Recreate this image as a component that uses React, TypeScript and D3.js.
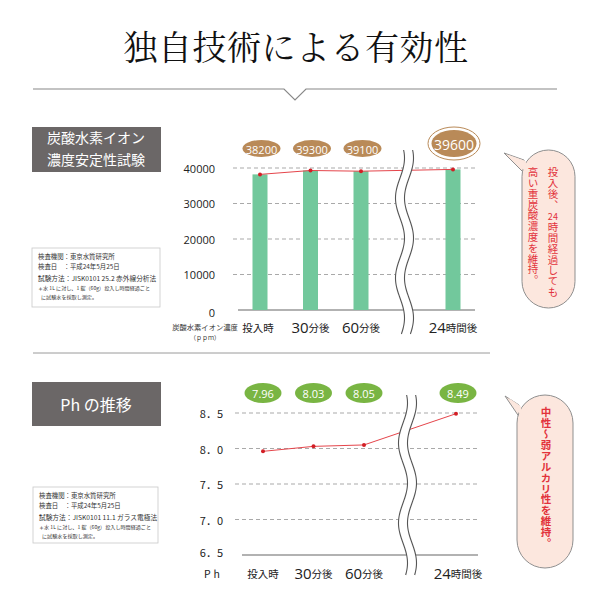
import React from "react";
import * as d3 from "d3";

const categories = ["投入時", "30分後", "60分後", "24時間後"];
const ionValues = [38200, 39300, 39100, 39600];
const ionTicks = [0, 10000, 20000, 30000, 40000];
const phValues = [7.96, 8.03, 8.05, 8.49];
const phTicks = [6.5, 7.0, 7.5, 8.0, 8.5];
const phTickLabels = ["6．5", "7．0", "7．5", "8．0", "8．5"];

const JP = '"Noto Sans CJK JP", "Noto Sans", sans-serif';
const NUM = '"Open Sans", "Noto Sans", sans-serif';
const RED = "#e5454b";
const DOT = "#d21f26";
const GRID = "#a9a9a9";
const HEAD = "#6b6767";
const TAN = "#b98a58";
const GREEN = "#79b543";
const BUBBLE = "#fce7de";
const BTEXT = "#e2323b";

function splitLabel(c: string) {
  const m = c.match(/^(\d+)(.*)$/);
  return m ? [m[1], m[2]] : ["", c];
}

function Wave({ cx, y0, y1 }: { cx: number; y0: number; y1: number }) {
  const gap = 9;
  const pts = d3.range(y0, y1 + 0.1, 2).map((y) => [
    cx + 4.5 * Math.sin(((y - y0) / 80) * 2 * Math.PI + 0.94),
    y,
  ]) as [number, number][];
  const left = pts;
  const right = pts.map(([x, y]) => [x + gap, y]) as [number, number][];
  const line = d3.line().curve(d3.curveCatmullRom);
  const area = [...left, ...right.slice().reverse()];
  return (
    <g>
      <path d={d3.line().curve(d3.curveLinearClosed)(area) || ""} fill="#fff" />
      <path d={line(left) || ""} fill="none" stroke="#555" strokeWidth={1.1} />
      <path d={line(right) || ""} fill="none" stroke="#555" strokeWidth={1.1} />
    </g>
  );
}

function CatLabels({ x, y }: { x: (i: number) => number; y: number }) {
  return (
    <g>
      {categories.map((c, i) => {
        const [n, rest] = splitLabel(c);
        return (
          <text key={c} x={x(i)} y={y} textAnchor="middle" dominantBaseline="central" fill="#222">
            {n && (
              <tspan fontFamily={NUM} fontSize={15}>
                {n}
              </tspan>
            )}
            <tspan fontFamily={JP} fontSize={10.5}>
              {rest}
            </tspan>
          </text>
        );
      })}
    </g>
  );
}

function InfoBox({ x, y, w, h, method }: { x: number; y: number; w: number; h: number; method: string }) {
  return (
    <g fontFamily={JP} fill="#333">
      <rect x={x} y={y} width={w} height={h} fill="#fff" stroke="#c8c8c8" strokeWidth={0.8} />
      <text x={x + 6} y={y + 11} fontSize={6.4}>検査機関：東京水質研究所</text>
      <text x={x + 6} y={y + 21} fontSize={6.4}>検査日　：平成24年5月25日</text>
      <text x={x + 6} y={y + 33} fontSize={6.7}>{method}</text>
      <text x={x + 6} y={y + 42} fontSize={5.1}>＊水 1L に対し、1 錠（60g）投入し時間経過ごと</text>
      <text x={x + 9} y={y + 51} fontSize={5.1}>に試験水を採取し測定。</text>
    </g>
  );
}

function Bubble({ x, y, w, h, tip }: { x: number; y: number; w: number; h: number; tip: [number, number] }) {
  const tail = `M${x + 2},${y + 10} L${tip[0]},${tip[1]} L${x + 5},${y + 26}`;
  return (
    <g>
      <path d={tail + "Z"} fill={BUBBLE} stroke="#8f8f8f" strokeWidth={1} />
      <rect x={x} y={y} width={w} height={h} rx={w / 2} ry={w / 2} fill={BUBBLE} stroke="#8f8f8f" strokeWidth={1} />
      <path d={`M${x + 3.5},${y + 11} L${tip[0] + 3},${tip[1] + 1.5} L${x + 6.5},${y + 24}Z`} fill={BUBBLE} />
    </g>
  );
}

export default function App() {
  // chart 1 scales
  const xIon = d3.scaleLinear().domain([0, 2, 3]).range([260, 361, 453]);
  const yIon = d3.scaleLinear().domain([0, 40000]).range([310, 168]);
  // chart 2 scales
  const xPh = d3.scaleLinear().domain([0, 2, 3]).range([263, 364, 456]);
  const yPh = d3.scaleLinear().domain([6.5, 8.5]).range([555, 413]);

  const ionLine = d3
    .line<number>()
    .x((_, i) => xIon(i))
    .y((d) => yIon(d));
  const phLine = d3
    .line<number>()
    .x((_, i) => xPh(i))
    .y((d) => yPh(d));

  const bw = 15;
  const vert: React.CSSProperties = { writingMode: "vertical-rl" as any };

  return (
    <svg width={600} height={600} viewBox="0 0 600 600" style={{ display: "block", position: "absolute", left: 0, top: 0, background: "#fff" }}>
      <rect width={600} height={600} fill="#fff" />
      {/* title */}
      <text x={296} y={45} textAnchor="middle" dominantBaseline="central" fontFamily={'"Noto Serif CJK JP", serif'} fontSize={34} fill="#111" letterSpacing={0.5}>
        独自技術による有効性
      </text>
      <path d="M33,89 L284,89 L295,100 L306,89 L557,89" fill="none" stroke="#888" strokeWidth={1.2} />

      {/* section 1 header */}
      <rect x={32} y={127} width={129} height={45} fill={HEAD} />
      <text x={96} y={137} textAnchor="middle" dominantBaseline="central" fontFamily={JP} fontSize={14} fill="#fff">
        炭酸水素イオン
      </text>
      <text x={96} y={159} textAnchor="middle" dominantBaseline="central" fontFamily={JP} fontSize={14} fill="#fff">
        濃度安定性試験
      </text>
      <InfoBox x={32} y={248} w={128} h={59} method="試験方法：JISK0101 25.2 赤外線分析法" />

      {/* chart 1 */}
      {ionTicks.filter((t) => t > 0).map((t) => (
        <line key={t} x1={233} x2={475} y1={yIon(t)} y2={yIon(t)} stroke={GRID} strokeDasharray="4,3" strokeWidth={1} />
      ))}
      {ionTicks.map((t) => (
        <text key={t} x={215} y={yIon(t) + (t === 0 ? 2 : 0)} textAnchor="end" dominantBaseline="central" fontFamily={NUM} fontSize={11} fill="#222">
          {t}
        </text>
      ))}
      <line x1={238} x2={475} y1={yIon(0)} y2={yIon(0)} stroke="#666" strokeWidth={1.2} />
      {ionValues.map((v, i) => (
        <rect key={i} x={xIon(i) - bw / 2} y={yIon(v)} width={bw} height={yIon(0) - yIon(v)} fill="#72c89c" />
      ))}
      <path d={ionLine(ionValues) || ""} fill="none" stroke={RED} strokeWidth={1} />
      {ionValues.map((v, i) => (
        <circle key={i} cx={xIon(i)} cy={yIon(v)} r={2} fill={DOT} />
      ))}
      <Wave cx={400} y0={150} y1={334} />
      {ionValues.map((v, i) => {
        const big = i === ionValues.length - 1;
        const cx = xIon(i) + (big ? 1 : 1.5);
        return (
          <g key={i}>
            {big && <ellipse cx={cx} cy={143.5} rx={26} ry={16.5} fill="#fff" stroke={TAN} strokeWidth={1} />}
            <ellipse cx={cx} cy={big ? 143.5 : 148.5} rx={big ? 22.5 : 19} ry={big ? 13.5 : 8.5} fill={TAN} />
            <text x={cx} y={big ? 144 : 149} textAnchor="middle" dominantBaseline="central" fontFamily={NUM} fontSize={big ? 14 : 11} fill="#fff">
              {v}
            </text>
          </g>
        );
      })}
      <CatLabels x={(i) => xIon(i) - (i === 0 ? 2 : 0)} y={327} />
      <text x={205} y={327} textAnchor="middle" dominantBaseline="central" fontFamily={JP} fontSize={7.3} fill="#333">
        炭酸水素イオン濃度
      </text>
      <text x={205} y={337} textAnchor="middle" dominantBaseline="central" fontFamily={JP} fontSize={6} fill="#333">
        （ｐｐｍ）
      </text>

      <Bubble x={522} y={150} w={53} h={158} tip={[504, 153]} />
      <g fontFamily={JP} fontSize={10.5} fill={BTEXT} letterSpacing={0.3}>
        <text x={553} y={167} style={vert}>投入後、</text>
        <text x={553} y={216.5} textAnchor="middle" dominantBaseline="central" fontSize={9}>24</text>
        <text x={553} y={222} style={vert}>時間経過しても</text>
        <text x={533} y={167} style={vert}>高い重炭酸濃度を維持。</text>
      </g>

      {/* divider */}
      <line x1={33} x2={490} y1={353} y2={353} stroke="#9a9a9a" strokeWidth={1} />

      {/* section 2 header */}
      <rect x={32} y={382} width={129} height={44} fill={HEAD} />
      <text x={96} y={404} textAnchor="middle" dominantBaseline="central" fontFamily={JP} fontSize={16} fill="#fff">
        Ph の推移
      </text>
      <InfoBox x={33} y={487} w={125} h={56} method="試験方法：JISK0101 11.1 ガラス電極法" />

      {/* chart 2 */}
      {phTicks.filter((t) => t > 6.5).map((t) => (
        <line key={t} x1={235} x2={478} y1={yPh(t)} y2={yPh(t)} stroke={GRID} strokeDasharray="4,3" strokeWidth={1} />
      ))}
      {phTicks.map((t, i) => (
        <text key={t} x={223} y={yPh(t) - (i === 0 ? 3 : 0)} textAnchor="end" dominantBaseline="central" fontFamily={JP} fontSize={11} fill="#222">
          {phTickLabels[i]}
        </text>
      ))}
      <line x1={242} x2={478} y1={yPh(6.5)} y2={yPh(6.5)} stroke="#666" strokeWidth={1.2} />
      <path d={phLine(phValues) || ""} fill="none" stroke={RED} strokeWidth={1} />
      {phValues.map((v, i) => (
        <circle key={i} cx={xPh(i)} cy={yPh(v)} r={2} fill={DOT} />
      ))}
      <Wave cx={403} y0={395} y1={575} />
      {phValues.map((v, i) => (
        <g key={i}>
          <ellipse cx={xPh(i) + (i === 3 ? 2 : 0)} cy={393} rx={18.5} ry={10} fill={GREEN} />
          <text x={xPh(i) + (i === 3 ? 2 : 0)} y={393.5} textAnchor="middle" dominantBaseline="central" fontFamily={NUM} fontSize={11} fill="#fff">
            {v.toFixed(2)}
          </text>
        </g>
      ))}
      <text x={223} y={573} textAnchor="end" dominantBaseline="central" fontFamily={JP} fontSize={10.5} fill="#222" letterSpacing={3}>
        Ph
      </text>
      <CatLabels x={(i) => xPh(i) + (i === 3 ? 2 : 0)} y={573} />

      <Bubble x={517} y={395} w={56} h={173} tip={[505, 396]} />
      <text x={546} y={407} style={vert} fontFamily={JP} fontSize={10.5} fontWeight={700} fill={BTEXT} letterSpacing={0.4}>
        中性～弱アルカリ性を維持。
      </text>
    </svg>
  );
}
